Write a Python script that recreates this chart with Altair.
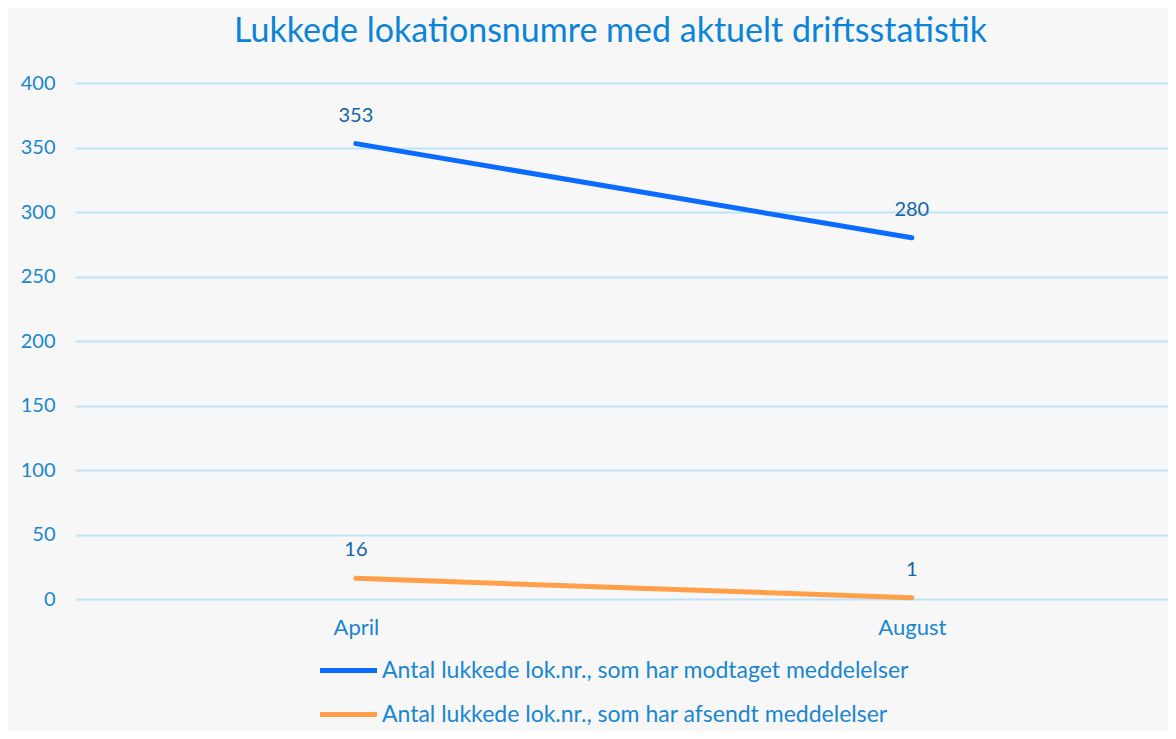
import altair as alt
import pandas as pd

months = ["April", "August"]
received = [353, 280]
sent = [16, 1]
series_names = [
    "Antal lukkede lok.nr., som har modtaget meddelelser",
    "Antal lukkede lok.nr., som har afsendt meddelelser",
]
series_colors = ["#0a6cff", "#ff9f4a"]
y_ticks = [0, 50, 100, 150, 200, 250, 300, 350, 400]

rows = []
for s, vals in zip(series_names, [received, sent]):
    for m, v in zip(months, vals):
        rows.append({"Måned": m, "Serie": s, "Antal": v})
df = pd.DataFrame(rows)

FONT = "Lato"
AXIS_BLUE = "#1a86d0"

x = alt.X(
    "Måned:N",
    sort=months,
    scale=alt.Scale(type="point", padding=0.483, align=0.523),
    axis=alt.Axis(
        title=None, labelAngle=0, labelFontSize=22, labelColor=AXIS_BLUE,
        labelFont=FONT, labelPadding=18, domain=False, ticks=False, grid=False,
    ),
)
y = alt.Y(
    "Antal:Q",
    scale=alt.Scale(domain=[0, 400]),
    axis=alt.Axis(
        title=None, values=y_ticks, labelFontSize=20, labelColor=AXIS_BLUE,
        labelFont=FONT, labelPadding=20, domain=False, ticks=False,
        gridColor="#bde3f9", gridWidth=2,
    ),
)
color = alt.Color(
    "Serie:N",
    sort=series_names,
    scale=alt.Scale(domain=series_names, range=series_colors),
    legend=alt.Legend(
        title=None, orient="none", legendX=242, legendY=556, direction="vertical",
        symbolType="stroke", symbolSize=3250, symbolStrokeWidth=5,
        labelFontSize=23, labelFont=FONT, labelColor=AXIS_BLUE, labelOffset=2,
        rowPadding=-21, labelLimit=800,
    ),
)

base = alt.Chart(df)
lines = base.mark_line(strokeWidth=5, strokeCap="round").encode(x=x, y=y, color=color)
labels = base.mark_text(dy=-28, fontSize=20, font=FONT, color="#1565a8").encode(
    x=x, y=y, text="Antal:Q"
)

chart = (
    alt.layer(lines, labels)
    .properties(
        width=1093,
        height=516,
        autosize=alt.AutoSizeParams(type="none"),
        padding={"left": 67, "top": 75, "right": 0, "bottom": 132},
        background="#f7f7f7",
        title=alt.TitleParams(
            "Lukkede lokationsnumre med aktuelt driftsstatistik",
            fontSize=34, font=FONT, fontWeight="normal", color="#0b84d8",
            anchor="middle", offset=24, dx=-11,
        ),
    )
    .configure_view(stroke=None)
)

chart.save("out.html", embed_options={"renderer": "svg", "actions": False})
